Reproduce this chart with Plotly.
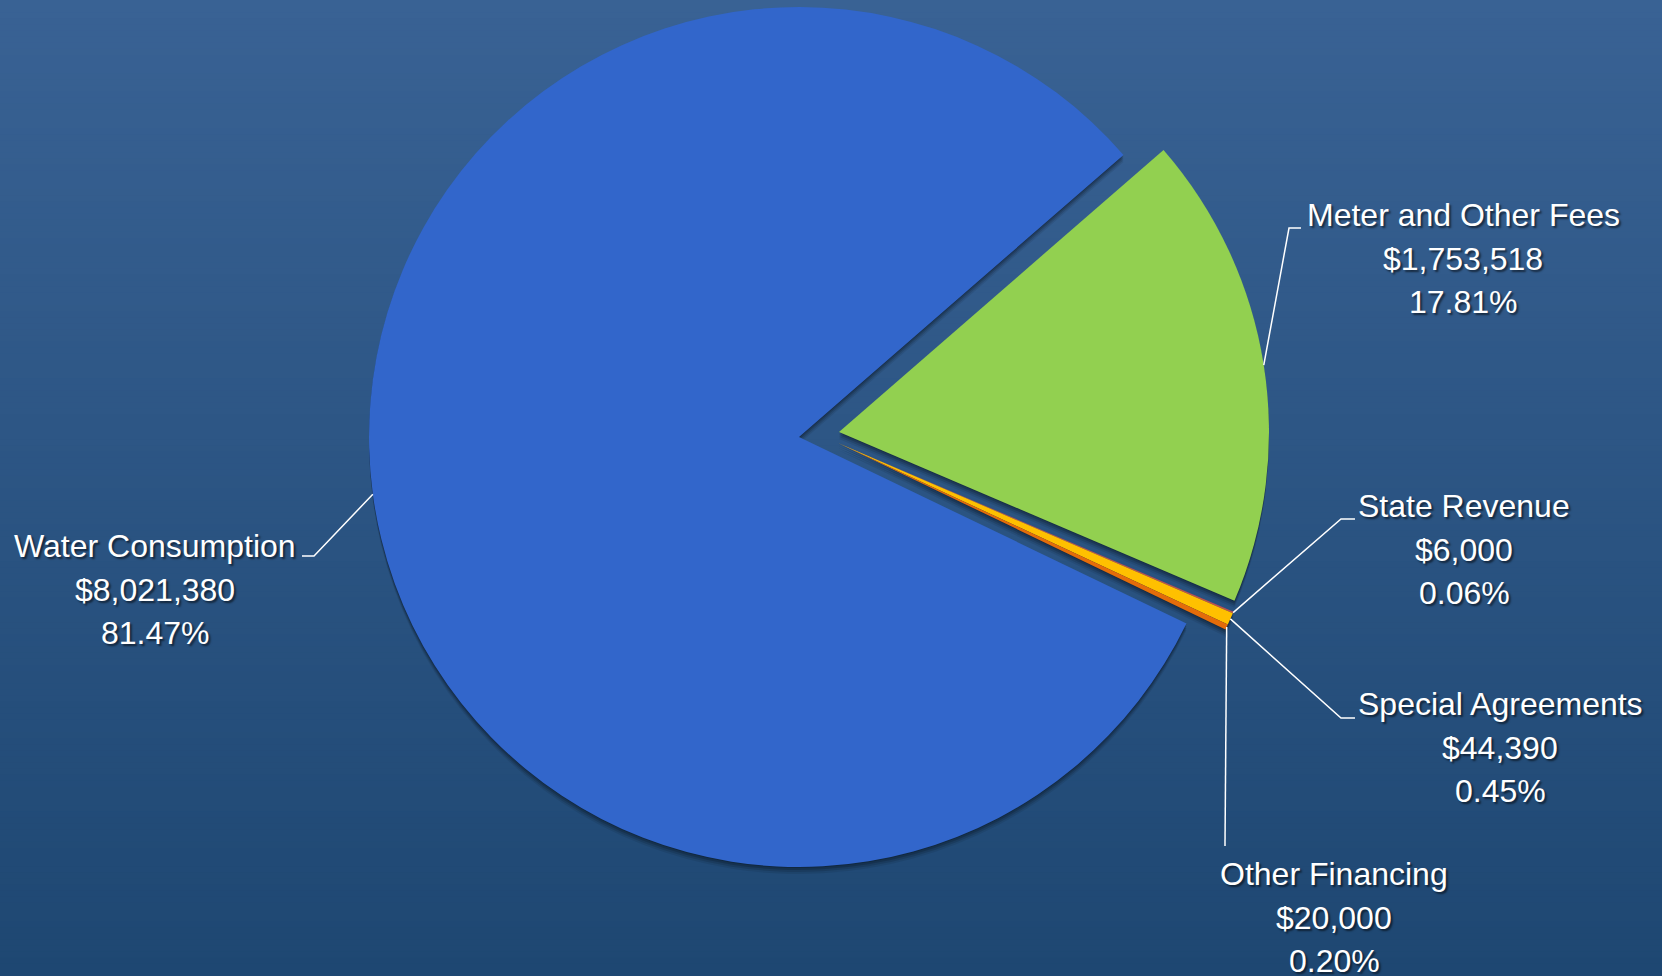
import math
import plotly.graph_objects as go

# ---------------- data ----------------
labels = ["Meter and Other Fees", "State Revenue", "Special Agreements",
          "Other Financing", "Water Consumption"]
values = [1753518, 6000, 44390, 20000, 8021380]
amount_text = ["$1,753,518", "$6,000", "$44,390", "$20,000", "$8,021,380"]
percent_text = ["17.81%", "0.06%", "0.45%", "0.20%", "81.47%"]
colors = ["#92D050", "#C0504D", "#FFC000", "#E46C0A", "#3266CB"]
slice_group = ["fees", "small", "small", "small", "main"]

# ---------------- layout geometry (pixels) ----------------
W, H = 1662, 976
R = 430
GROUP_CENTER = {
    "main": (799, 437),
    "fees": (839, 432),
    "small": (838, 443),
}
ROTATION = 49

label_pos = {
    "Meter and Other Fees": (1463, 215),
    "State Revenue": (1464, 506),
    "Special Agreements": (1500, 704),
    "Other Financing": (1334, 874),
    "Water Consumption": (155, 546),
}
LINE_GAP = 43.5
leader_via = {
    "Meter and Other Fees": [(1289, 228), (1301, 228)],
    "State Revenue": [(1341, 519), (1355, 519)],
    "Special Agreements": [(1341, 718), (1355, 718)],
    "Other Financing": [(1225, 846)],
    "Water Consumption": [(314, 556), (302, 556)],
}

TOP_COLOR = (57, 98, 148)
BOTTOM_COLOR = (30, 71, 114)
FONT = "Liberation Sans, Arial, sans-serif"
TRANSP = "rgba(0,0,0,0)"


def px(x):
    return x / W


def py(y):
    return 1 - y / H


def domain_for(center, dx=0, dy=0):
    cx, cy = center[0] + dx, center[1] + dy
    return dict(x=[px(cx - R), px(cx + R)], y=[py(cy + R), py(cy - R)])


def pie(group, slice_colors, dx=0, dy=0):
    return go.Pie(
        labels=labels, values=values, sort=False, direction="clockwise",
        rotation=ROTATION, textinfo="none", hoverinfo="skip",
        marker=dict(colors=slice_colors, line=dict(width=0)),
        domain=domain_for(GROUP_CENTER[group], dx, dy), showlegend=False,
    )


fig = go.Figure()
groups = ["main", "fees", "small"]

# drop shadows
for dx, dy, a in [(0, 7, 0.08), (0, 5, 0.12), (0, 3, 0.16), (0, 1, 0.18)]:
    sh = f"rgba(0,0,0,{a})"
    for g in groups:
        fig.add_trace(pie(g, [sh if sg == g else TRANSP for sg in slice_group], dx, dy))

for g in groups:
    fig.add_trace(pie(g, [c if sg == g else TRANSP for c, sg in zip(colors, slice_group)]))

# background gradient strips
shapes = []
N = 160
for i in range(N):
    t = i / (N - 1)
    c = tuple(round(TOP_COLOR[k] + (BOTTOM_COLOR[k] - TOP_COLOR[k]) * t) for k in range(3))
    shapes.append(dict(type="rect", xref="paper", yref="paper", layer="below",
                       x0=0, x1=1, y0=1 - i / N, y1=1 - (i + 1) / N - 0.002,
                       line=dict(width=0), fillcolor=f"rgb{c}"))

# leader lines from slice mid-angle points on the rim
total = sum(values)
cum = 0
annotations = []
for lab, v, amt, pct, g in zip(labels, values, amount_text, percent_text, slice_group):
    a0 = cum / total * 360
    cum += v
    a1 = cum / total * 360
    mid = math.radians(ROTATION + (a0 + a1) / 2)
    cx, cy = GROUP_CENTER[g]
    sx, sy = cx + R * math.sin(mid), cy - R * math.cos(mid)
    pts = [(sx, sy)] + leader_via[lab]
    path = "M " + " L ".join(f"{px(x):.5f},{py(y):.5f}" for x, y in pts)
    shapes.append(dict(type="path", xref="paper", yref="paper", path=path,
                       line=dict(color="white", width=1.5), layer="above"))
    lx, ly = label_pos[lab]
    for k, line in enumerate([lab, amt, pct]):
        annotations.append(dict(
            x=px(lx), y=py(ly + k * LINE_GAP), xref="paper", yref="paper",
            text=line, showarrow=False, xanchor="center", yanchor="middle",
            font=dict(family=FONT, size=32, color="white",
                      shadow="2px 2px 2px rgba(0,0,0,0.55)"),
        ))

fig.update_layout(
    width=W, height=H, margin=dict(l=0, r=0, t=0, b=0),
    paper_bgcolor="rgb(44,84,131)", plot_bgcolor="rgba(0,0,0,0)",
    shapes=shapes, annotations=annotations, showlegend=False,
)

fig.write_html("out.html")
